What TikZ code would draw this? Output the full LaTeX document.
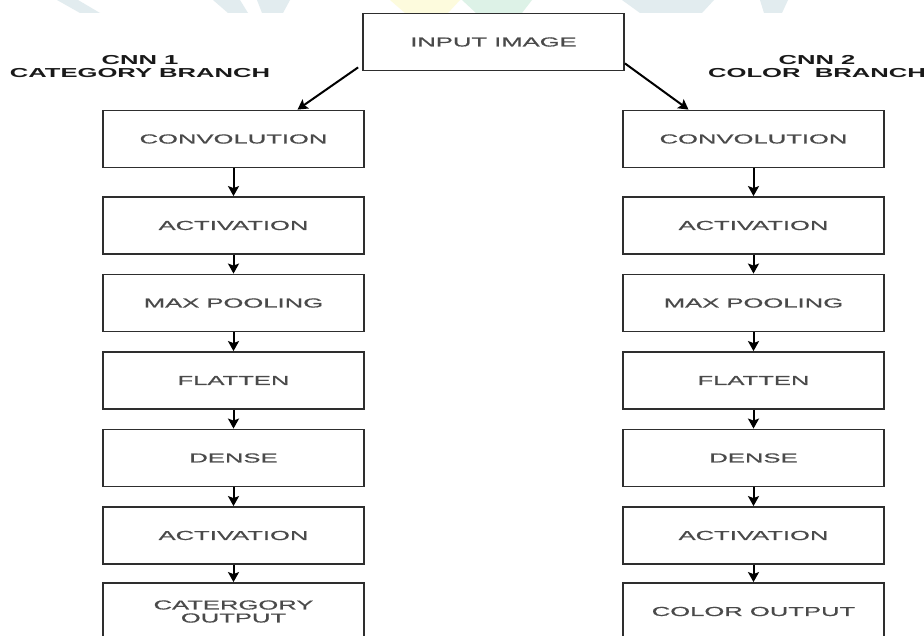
\documentclass[tikz,border=0pt]{standalone}
\usepackage{fontspec}
\setmainfont{Liberation Sans}
\newfontfamily\boxf[FakeStretch=1.97,FakeBold=0.6]{Liberation Sans}
\newfontfamily\titf[FakeStretch=1.97]{Liberation Sans Bold}
\usetikzlibrary{arrows.meta,positioning}
\definecolor{boxline}{HTML}{2E2E2E}
\definecolor{boxtext}{HTML}{4A4A4A}
\definecolor{wmteal}{HTML}{E2ECEF}
\definecolor{wmyellow}{HTML}{FDFBDD}
\definecolor{wmgreen}{HTML}{DDF2E7}
\tikzset{
  layer/.style={draw=boxline, line width=1.8pt, fill=white, minimum width=261pt, minimum height=57pt,
    inner sep=0pt, align=center, text=boxtext, font=\boxf\fontsize{13}{13}\selectfont},
  title/.style={align=center, text=black!90, font=\titf\fontsize{13}{13}\selectfont},
  arr/.style={draw=black, line width=2pt, -{Stealth[length=10pt,width=11pt,inset=2pt]}}
}
\begin{document}
\begin{tikzpicture}[x=1pt,y=-1pt]
\useasboundingbox[fill=white] (0,0) rectangle (924,636);
% faint watermark
\fill[wmteal] (57,0) -- (78,0) -- (100,13) -- (80,13) -- cycle;
\fill[wmteal] (213,0) -- (240,0) -- (248,13) -- (228,13) -- cycle;
\fill[wmteal] (257,0) -- (290,0) -- (283,13) -- (262,13) -- cycle;
\fill[wmyellow] (390,0) -- (460,0) -- (448,13) -- (405,13) -- cycle;
\fill[wmgreen] (462,0) -- (532,0) -- (522,13) -- (476,13) -- cycle;
\fill[wmteal] (622,0) -- (714,0) -- (702,13) -- (640,13) -- cycle;
\fill[wmteal] (760,0) -- (788,0) -- (782,13) -- (764,13) -- cycle;

% input
\node[layer] (inp) at (493.5,42) {INPUT IMAGE};

% titles
\node[title] (t1) at (140,67) {CNN 1\\CATEGORY BRANCH};
\node[title] (t2) at (817,67) {CNN 2\\COLOR\ \ BRANCH};

% left branch
\node[layer] (l1) at (233.5,139) {CONVOLUTION};
\node[layer] (l2) at (233.5,225.5) {ACTIVATION};
\node[layer] (l3) at (233.5,303) {MAX POOLING};
\node[layer] (l4) at (233.5,380.5) {FLATTEN};
\node[layer] (l5) at (233.5,458) {DENSE};
\node[layer] (l6) at (233.5,535.5) {ACTIVATION};
\node[layer] (l7) at (233.5,611.5) {CATERGORY\\OUTPUT};

% right branch
\node[layer] (r1) at (753.5,139) {CONVOLUTION};
\node[layer] (r2) at (753.5,225.5) {ACTIVATION};
\node[layer] (r3) at (753.5,303) {MAX POOLING};
\node[layer] (r4) at (753.5,380.5) {FLATTEN};
\node[layer] (r5) at (753.5,458) {DENSE};
\node[layer] (r6) at (753.5,535.5) {ACTIVATION};
\node[layer] (r7) at (753.5,611.5) {COLOR OUTPUT};

% connectors
\draw[arr] ([xshift=-4pt,yshift=4pt]inp.south west) -- ([xshift=64pt]l1.north);
\draw[arr] ([yshift=8pt]inp.south east) -- ([xshift=-65pt]r1.north);
\foreach \a/\b in {l1/l2,l2/l3,l3/l4,l4/l5,l5/l6,l6/l7,r1/r2,r2/r3,r3/r4,r4/r5,r5/r6,r6/r7}
  \draw[arr] (\a.south) -- (\b.north);
\end{tikzpicture}
\end{document}
